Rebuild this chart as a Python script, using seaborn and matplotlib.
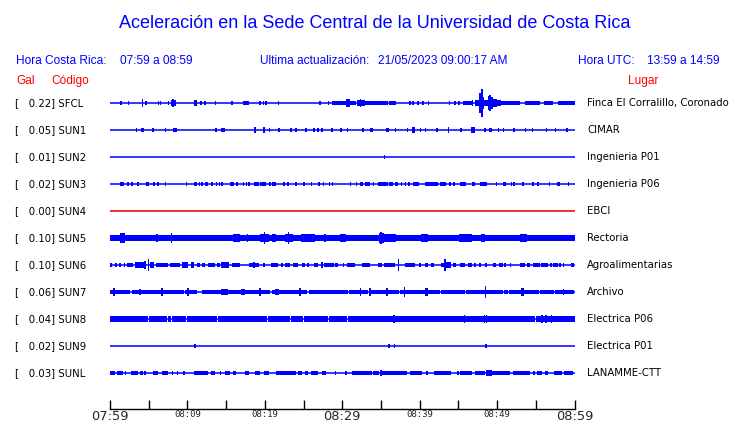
import matplotlib
matplotlib.use("Agg")
import matplotlib.pyplot as plt
import seaborn as sns
import pandas as pd
import numpy as np

# ---------------- data ----------------
codes = ["SFCL", "SUN1", "SUN2", "SUN3", "SUN4", "SUN5", "SUN6", "SUN7", "SUN8", "SUN9", "SUNL"]
gal = [0.22, 0.05, 0.01, 0.02, 0.00, 0.10, 0.10, 0.06, 0.04, 0.02, 0.03]
places = ["Finca El Corralillo, Coronado", "CIMAR", "Ingenieria P01", "Ingenieria P06", "EBCI",
          "Rectoria", "Agroalimentarias", "Archivo", "Electrica P06", "Electrica P01", "LANAMME-CTT"]
tick_minutes = list(range(0, 61, 5))
tick_labels = ["07:59", "", "08:09", "", "08:19", "", "08:29", "", "08:39", "", "08:49", "", "08:59"]
major_labels = ["07:59", "08:29", "08:59"]

# amplitude envelopes: (start minute, end minute, half amplitude)
sfcl_bursts = [(1.4, 1.5, 1.3), (2.3, 2.5, 1.3), (4.1, 4.3, 3.0), (4.6, 4.7, 1.3), (6.2, 6.3, 1.0),
               (6.5, 6.6, 1.0), (7.5, 7.6, 1.3), (7.85, 8.5, 2.0), (8.1, 8.2, 3.0), (10.9, 11.3, 2.3),
               (11.7, 11.8, 1.3), (12.2, 12.3, 1.0), (13.5, 13.7, 1.5), (15.7, 15.8, 1.0), (17.2, 18.0, 1.5),
               (19.3, 19.4, 1.3), (19.8, 19.9, 1.3), (20.1, 20.2, 1.3), (21.7, 21.8, 1.0), (27.1, 27.2, 1.3),
               (28.2, 28.3, 1.0), (28.7, 30.5, 1.7), (30.5, 31.0, 2.7), (31.0, 31.8, 1.7), (31.9, 32.9, 2.3),
               (32.3, 32.4, 3.3), (32.9, 35.9, 1.5), (36.0, 37.0, 1.5), (38.7, 38.8, 1.0), (39.1, 39.2, 1.0),
               (39.7, 39.8, 1.0), (40.4, 40.5, 1.0), (41.1, 41.2, 1.3), (43.8, 43.9, 1.3), (44.5, 44.6, 1.0),
               (45.0, 45.2, 1.3), (45.6, 46.7, 1.7), (46.7, 46.9, 2.5), (47.1, 47.7, 2.0), (47.7, 47.85, 8.0),
               (47.85, 48.0, 6.0), (48.0, 48.15, 12.0), (48.15, 48.3, 5.0), (48.3, 48.8, 2.5), (48.9, 49.0, 6.0),
               (49.0, 49.2, 7.0), (49.2, 49.5, 5.0), (49.5, 50.0, 3.5), (50.0, 50.5, 2.3), (50.5, 52.9, 1.7),
               (53.6, 55.5, 1.7), (56.1, 57.2, 1.7), (57.9, 60.0, 1.7)]
sun1_bursts = [(3.4, 3.5, 1.2), (4.0, 4.35, 1.5), (5.5, 5.6, 1.2), (7.1, 7.2, 1.2), (8.2, 8.3, 1.0),
               (8.5, 8.6, 1.0), (13.5, 13.8, 1.5), (14.4, 14.5, 1.2), (14.7, 14.8, 1.0), (18.65, 18.9, 2.2),
               (19.85, 19.95, 2.2), (20.5, 20.7, 1.5), (21.8, 21.9, 1.2), (23.3, 23.4, 1.0), (24.0, 24.1, 1.2),
               (25.2, 25.5, 1.8), (26.3, 26.4, 1.0), (26.8, 26.9, 1.0), (27.3, 27.4, 1.2), (28.6, 28.7, 1.2),
               (29.8, 29.9, 1.2), (30.6, 30.7, 1.2), (32.6, 32.7, 1.2), (33.55, 34.0, 1.5), (35.6, 36.0, 1.5),
               (36.8, 36.9, 1.2), (38.4, 38.5, 1.2), (39.05, 39.35, 2.0), (40.05, 40.15, 1.2), (40.7, 40.8, 1.0),
               (42.2, 42.3, 1.2), (43.7, 43.8, 2.0), (45.3, 45.4, 1.2), (46.6, 47.1, 2.0), (48.4, 48.5, 1.2),
               (49.0, 49.3, 1.5), (50.15, 50.25, 1.2), (50.75, 50.85, 1.2), (52.1, 52.2, 1.0), (53.6, 53.7, 1.0),
               (54.5, 54.6, 1.2), (56.35, 56.45, 1.2), (57.5, 57.6, 1.2), (59.0, 59.1, 1.2)]
sun2_bursts = [(35.4, 35.5, 1.0)]
sun3_bursts = [(1.4, 1.5, 1.2), (1.65, 1.75, 1.2), (2.3, 2.4, 1.0), (2.7, 3.0, 1.5), (3.5, 3.7, 1.5),
               (4.7, 4.8, 1.2), (4.95, 5.05, 1.2), (5.6, 5.7, 1.0), (6.1, 6.25, 1.5), (7.1, 7.2, 1.2),
               (9.85, 9.95, 1.0), (10.9, 11.2, 1.5), (11.5, 11.6, 1.2), (11.8, 11.9, 1.2), (12.3, 12.4, 1.0),
               (12.5, 12.6, 1.2), (13.1, 13.2, 1.0), (13.7, 13.8, 1.2), (14.1, 14.2, 1.0), (14.4, 14.6, 1.5),
               (15.5, 16.0, 1.5), (16.3, 16.5, 1.3), (17.2, 17.3, 1.0), (17.6, 17.7, 1.2), (17.9, 18.0, 1.0),
               (18.6, 19.2, 1.5), (19.4, 20.1, 1.5), (20.6, 20.7, 1.2), (21.0, 21.1, 1.2), (21.2, 21.4, 1.3),
               (22.4, 22.5, 1.0), (22.9, 23.1, 1.5), (24.0, 24.1, 1.2), (25.0, 25.1, 1.0), (26.0, 26.1, 1.2),
               (26.9, 27.1, 1.5), (27.5, 27.6, 1.0), (28.3, 28.4, 1.2), (28.7, 28.8, 1.2), (31.0, 31.1, 1.0),
               (31.75, 31.9, 1.2), (32.35, 32.7, 1.5), (33.0, 33.55, 1.5), (34.0, 34.1, 1.2), (34.6, 35.9, 1.5),
               (36.1, 36.6, 1.5), (36.8, 37.2, 1.5), (37.6, 37.7, 1.2), (38.1, 38.2, 1.0), (38.6, 38.7, 1.2),
               (39.1, 39.9, 1.5), (40.65, 42.4, 1.5), (42.6, 43.45, 1.5), (43.9, 44.0, 1.2), (44.4, 44.5, 1.0),
               (45.2, 46.0, 1.5), (46.8, 47.15, 1.5), (47.75, 48.7, 1.5), (49.9, 50.0, 1.2), (50.75, 51.2, 1.5),
               (51.8, 51.9, 1.2), (52.1, 52.2, 1.2), (53.3, 53.4, 1.0), (54.5, 54.8, 1.3), (55.2, 55.3, 1.2),
               (56.7, 56.8, 1.2), (57.7, 58.1, 1.5), (59.2, 59.3, 1.5)]
sun4_bursts = []
sun5_bursts = [(0.0, 60.0, 2.2), (1.3, 1.95, 4.0), (4.5, 4.95, 2.6), (6.0, 6.1, 3.0), (7.3, 7.5, 2.6),
               (7.9, 8.0, 4.0), (8.2, 8.6, 2.6), (10.3, 12.3, 2.6), (14.4, 15.4, 2.6), (15.9, 16.8, 3.2),
               (17.7, 17.8, 3.2), (19.4, 20.5, 3.0), (19.9, 20.0, 4.5), (20.9, 21.5, 2.8), (22.6, 23.7, 3.0),
               (23.0, 23.1, 4.5), (24.7, 26.5, 2.7), (27.6, 27.9, 3.3), (29.7, 30.5, 2.8), (31.6, 31.8, 2.6),
               (32.3, 32.7, 2.6), (33.5, 33.8, 2.6), (34.75, 35.4, 3.6), (34.95, 35.05, 5.0), (35.4, 37.0, 2.8),
               (37.3, 38.1, 2.6), (38.5, 39.0, 2.6), (40.2, 41.1, 3.2), (41.5, 42.6, 2.6), (43.9, 44.3, 2.6),
               (45.1, 46.7, 3.2), (47.95, 48.4, 2.8), (49.7, 50.3, 2.6), (52.9, 53.8, 2.7), (54.4, 54.8, 2.6),
               (55.9, 56.6, 2.6), (57.9, 59.8, 2.6)]
sun6_bursts = [(0.05, 0.2, 1.5), (0.6, 0.9, 1.5), (1.1, 1.4, 1.5), (1.85, 1.95, 1.2), (2.15, 3.0, 1.7),
               (3.2, 4.7, 2.0), (4.4, 4.7, 3.0), (4.9, 5.0, 5.0), (5.2, 5.7, 2.0), (6.0, 7.5, 1.8),
               (7.75, 9.05, 1.8), (9.3, 10.1, 2.0), (10.5, 10.9, 2.5), (11.3, 11.6, 1.7), (11.9, 12.3, 1.7),
               (12.7, 13.6, 1.8), (13.8, 14.2, 1.7), (14.4, 15.4, 2.0), (15.7, 16.8, 1.8), (17.9, 19.2, 1.8),
               (18.55, 18.65, 2.5), (19.7, 20.0, 1.7), (20.8, 21.75, 1.8), (22.2, 22.3, 1.5), (22.6, 23.3, 1.8),
               (23.7, 24.3, 1.7), (24.8, 25.2, 1.7), (25.4, 25.7, 1.7), (26.3, 26.9, 1.8), (27.3, 27.4, 2.5),
               (27.6, 28.9, 1.8), (29.1, 29.5, 1.5), (30.1, 30.2, 1.5), (30.6, 31.7, 1.8), (32.6, 33.55, 1.8),
               (34.6, 35.1, 1.5), (35.4, 36.8, 1.8), (37.2, 37.35, 5.0), (38.1, 39.4, 1.8), (40.0, 40.1, 1.5),
               (40.65, 41.1, 1.5), (41.5, 41.9, 1.5), (42.8, 43.1, 1.5), (43.1, 43.4, 4.5), (43.4, 44.1, 2.5),
               (44.3, 44.7, 1.5), (45.2, 45.8, 1.5), (46.2, 46.7, 1.5), (47.1, 47.2, 1.5), (47.75, 47.85, 1.5),
               (48.5, 48.6, 1.5), (49.5, 49.9, 1.5), (50.2, 50.75, 1.5), (51.0, 51.1, 1.5), (51.7, 51.8, 1.5),
               (52.9, 53.55, 1.5), (53.85, 54.3, 1.5), (54.7, 55.5, 1.5), (55.7, 56.6, 1.8), (56.9, 57.0, 1.5),
               (57.2, 57.85, 1.5), (58.1, 58.2, 1.5), (58.5, 58.6, 1.5), (59.6, 60.0, 1.5)]
sun7_bursts = [(0.0, 2.6, 1.8), (2.9, 9.5, 1.8), (9.7, 11.2, 1.8), (11.9, 20.7, 1.8), (20.9, 25.5, 1.8),
               (25.7, 30.7, 1.8), (30.9, 33.3, 1.8), (33.5, 37.3, 1.8), (37.5, 42.6, 1.8), (42.8, 45.8, 1.8),
               (46.0, 50.7, 1.8), (50.9, 51.4, 1.8), (51.6, 55.4, 1.8), (55.6, 57.3, 1.8), (57.5, 60.0, 1.8),
               (0.4, 0.6, 3.0), (3.8, 4.0, 2.6), (6.6, 6.8, 3.0), (10.0, 10.1, 3.5), (14.3, 15.3, 2.6),
               (16.9, 17.4, 2.6), (19.35, 19.45, 3.0), (21.3, 21.8, 2.6), (24.5, 24.6, 3.0), (32.3, 32.4, 3.0),
               (33.5, 33.6, 3.5), (35.7, 35.8, 3.0), (38.0, 38.1, 3.8), (40.65, 41.1, 3.3), (48.45, 48.55, 4.5),
               (53.1, 53.5, 3.0), (58.5, 58.6, 2.6)]
sun8_bursts = [(0.0, 4.9, 2.2), (5.05, 7.35, 2.2), (7.5, 7.9, 2.2), (8.05, 9.85, 2.2), (9.98, 13.85, 2.2),
               (13.98, 20.25, 2.2), (20.38, 23.25, 2.2), (23.4, 24.95, 2.2), (25.08, 28.15, 2.2),
               (28.3, 30.55, 2.2), (30.7, 54.85, 2.2), (55.0, 60.0, 2.2), (36.6, 36.75, 3.5),
               (45.75, 45.85, 2.8), (48.35, 48.45, 3.5), (48.6, 48.7, 3.5), (55.75, 55.85, 3.0),
               (56.3, 56.4, 2.8), (57.0, 57.1, 2.8)]
sun9_bursts = [(10.9, 11.0, 1.0), (36.0, 36.1, 1.0), (36.7, 36.8, 1.3), (48.5, 48.7, 1.5)]
sunl_bursts = [(0.0, 0.65, 1.3), (0.85, 1.7, 1.5), (1.9, 2.1, 1.3), (2.7, 3.6, 1.5), (3.9, 4.3, 1.5),
               (4.5, 4.6, 1.3), (5.5, 6.25, 1.5), (6.7, 7.55, 1.5), (8.0, 8.1, 1.3), (8.65, 8.75, 1.2),
               (9.5, 9.6, 1.2), (10.8, 12.7, 1.5), (13.1, 13.6, 1.5), (14.2, 14.4, 1.3), (14.85, 15.5, 1.5),
               (15.9, 16.3, 1.5), (17.5, 17.9, 1.5), (18.7, 19.4, 1.5), (19.9, 20.5, 1.5), (21.4, 24.0, 1.5),
               (24.3, 24.8, 1.5), (25.2, 25.6, 1.5), (25.9, 26.9, 1.5), (27.4, 27.9, 1.5), (29.1, 29.2, 1.2),
               (30.4, 30.5, 1.2), (31.2, 33.8, 1.5), (34.0, 34.7, 1.5), (34.9, 35.1, 2.5), (35.1, 38.3, 1.5),
               (38.8, 40.3, 1.5), (40.9, 41.0, 1.2), (41.8, 44.1, 1.5), (44.9, 45.0, 1.2), (45.2, 46.7, 1.5),
               (47.2, 48.4, 1.5), (48.6, 49.3, 2.5), (49.3, 51.7, 1.5), (52.1, 54.3, 1.5), (54.6, 54.9, 1.5),
               (55.2, 55.8, 1.5), (56.2, 56.6, 1.5), (57.3, 58.4, 1.5), (58.6, 59.8, 1.5)]
station_bursts = [sfcl_bursts, sun1_bursts, sun2_bursts, sun3_bursts, sun4_bursts, sun5_bursts,
                  sun6_bursts, sun7_bursts, sun8_bursts, sun9_bursts, sunl_bursts]

# ---------------- style ----------------
BLUE = "#0000ff"
RED = "#ff0000"
trace_colors = [BLUE] * 11
trace_colors[4] = "#e00000"
W, H = 740, 423
row_step = 27.0          # pixels between rows
amp_k = 1.15 / row_step  # envelope units -> row units
amp_pad = 0.4 / row_step

sns.set_theme(style="white")
plt.rcParams["font.family"] = ["DejaVu Sans"]

fig = plt.figure(figsize=(W / 100, H / 100), dpi=100)
fig.patch.set_facecolor("white")

x0, x1 = 110, 574.5
y_axis_px, y_top_px = 409, 88
ax = fig.add_axes([x0 / W, (H - y_axis_px) / H, (x1 - x0) / W, (y_axis_px - y_top_px) / H])
ax.set_facecolor("none")

row_px0 = 103
ylim_bottom = (y_axis_px - row_px0) / row_step
ylim_top = (y_top_px - row_px0) / row_step

# baselines through seaborn
base = pd.DataFrame({
    "t": [0, 60] * len(codes),
    "row": [i for i in range(len(codes)) for _ in range(2)],
    "code": [c for c in codes for _ in range(2)],
})
sns.lineplot(data=base, x="t", y="row", hue="code", palette=dict(zip(codes, trace_colors)),
             legend=False, linewidth=1.1, ax=ax, estimator=None, sort=False)

# amplitude envelopes
for i, bursts in enumerate(station_bursts):
    if not bursts:
        continue
    arr = np.array(bursts, dtype=float)
    t0, t1, a = arr[:, 0], arr[:, 1], arr[:, 2]
    width = np.maximum(t1 - t0, 0.2)
    half = a * amp_k + amp_pad
    ax.bar((t0 + t1) / 2, 2 * half, bottom=i - half, width=width,
           color=trace_colors[i], linewidth=0, align="center", antialiased=False)

ax.set_xlim(0, 60)
ax.set_ylim(ylim_bottom, ylim_top)
for s in ["top", "left", "right"]:
    ax.spines[s].set_visible(False)
ax.spines["bottom"].set_color("black")
ax.spines["bottom"].set_linewidth(1.0)
ax.set_yticks([])
ax.set_xlabel("")
ax.set_ylabel("")
ax.set_xticks(tick_minutes)
ax.set_xticklabels(tick_labels)
ax.tick_params(axis="x", direction="in", length=6.5, width=1.0, color="black", pad=0.5,
               bottom=True, labelsize=6.5)
for lab in ax.get_xticklabels():
    if lab.get_text() in major_labels:
        lab.set_fontsize(9.4)
        lab.set_family("DejaVu Sans")
    else:
        lab.set_family("DejaVu Sans Mono")
        lab.set_fontsize(6.5)

# station labels
ytr = ax.get_yaxis_transform()
for i in range(len(codes)):
    ax.text((15 - x0) / (x1 - x0), i, f"[   {gal[i]:.2f}] {codes[i]}", transform=ytr,
            ha="left", va="center", fontsize=7.3, color="black", clip_on=False)
    ax.text((587 - x0) / (x1 - x0), i, places[i], transform=ytr,
            ha="left", va="center", fontsize=7.3, color="black", clip_on=False)

# header texts
def ftext(x, y, s, **kw):
    fig.text(x / W, 1 - y / H, s, va="center", **kw)

hdr = dict(family=["Liberation Sans", "DejaVu Sans"], fontsize=8.6)
ftext(374.5, 23, "Aceleración en la Sede Central de la Universidad de Costa Rica", ha="center",
      color=BLUE, family=["Liberation Sans", "DejaVu Sans"], fontsize=13)
ftext(16, 61, "Hora Costa Rica:", ha="left", color=BLUE, **hdr)
ftext(120, 61, "07:59 a 08:59", ha="left", color=BLUE, **hdr)
ftext(260, 61, "Ultima actualización:", ha="left", color=BLUE, **hdr)
ftext(378, 61, "21/05/2023 09:00:17 AM", ha="left", color=BLUE, **hdr)
ftext(578, 61, "Hora UTC:", ha="left", color=BLUE, **hdr)
ftext(647, 61, "13:59 a 14:59", ha="left", color=BLUE, **hdr)
ftext(16, 81, "Gal", ha="left", color=RED, **hdr)
ftext(51, 81, "Código", ha="left", color=RED, **hdr)
ftext(628, 81, "Lugar", ha="left", color=RED, **hdr)

fig.savefig("out.png", dpi=100, facecolor="white")
